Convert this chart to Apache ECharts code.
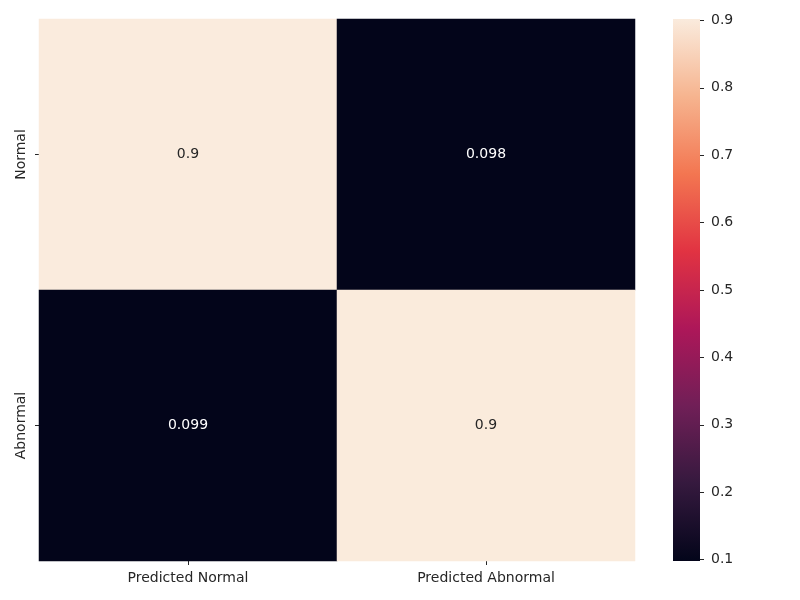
<!DOCTYPE html>
<html>
<head>
<meta charset="utf-8">
<script src="https://cdn.jsdelivr.net/npm/echarts@6/dist/echarts.min.js"></script>
<style>
  html, body { margin: 0; padding: 0; background: #fff; }
  #chart { width: 800px; height: 600px; }
</style>
</head>
<body>
<div id="chart"></div>
<script>
// categories
const xCategories = ['Predicted Normal', 'Predicted Abnormal']
const yCategories = ['Normal', 'Abnormal']
// rows follow yCategories, columns follow xCategories
const matrix = [
  [0.902, 0.098],
  [0.099, 0.901]
]
const colorbarTicks = [0.1, 0.2, 0.3, 0.4, 0.5, 0.6, 0.7, 0.8, 0.9]
// rocket colormap, evenly spaced stops
const rocket = ['#03051a', '#35193e', '#701f57', '#ad1759', '#e13342', '#f37651', '#f6b48f', '#faebdd']

const flat = matrix.flat()
const vmin = Math.min(...flat)
const vmax = Math.max(...flat)

const textColor = '#262626'
const font = 'DejaVu Sans'

// dark text on light cells, like seaborn annotations
const heatData = []
matrix.forEach((row, yi) => {
  row.forEach((v, xi) => {
    heatData.push({
      value: [xi, yi, v],
      label: { color: v > (vmin + vmax) / 2 ? textColor : '#fff' }
    })
  })
})

const chart = echarts.init(document.getElementById('chart'))
chart.setOption({
  animation: false,
  textStyle: { fontFamily: font },
  grid: [
    { left: 39, right: 165, top: 19, bottom: 39 },
    { left: 673, width: 27, top: 19, bottom: 39 }
  ],
  xAxis: [
    {
      type: 'category',
      gridIndex: 0,
      data: xCategories,
      axisLine: { show: false },
      axisTick: { show: true, length: 4, alignWithLabel: true, lineStyle: { color: textColor } },
      axisLabel: { color: textColor, fontSize: 14, fontFamily: font, margin: 10 },
      splitLine: { show: false }
    },
    {
      type: 'category',
      gridIndex: 1,
      data: ['cb'],
      show: false
    }
  ],
  yAxis: [
    {
      type: 'category',
      gridIndex: 0,
      data: yCategories,
      inverse: true,
      axisLine: { show: false },
      axisTick: { show: true, length: 4, alignWithLabel: true, lineStyle: { color: textColor } },
      axisLabel: { color: textColor, fontSize: 14, fontFamily: font, rotate: 90, margin: 11 },
      splitLine: { show: false }
    },
    {
      type: 'value',
      gridIndex: 1,
      position: 'right',
      min: vmin,
      max: vmax,
      axisLine: { show: false },
      axisTick: { show: true, length: 4, customValues: colorbarTicks, lineStyle: { color: textColor } },
      axisLabel: {
        color: textColor, fontSize: 14, fontFamily: font, margin: 11,
        customValues: colorbarTicks,
        formatter: (v) => v.toFixed(1)
      },
      splitLine: { show: false }
    }
  ],
  visualMap: {
    show: false,
    type: 'continuous',
    seriesIndex: 0,
    min: vmin,
    max: vmax,
    inRange: { color: rocket }
  },
  series: [
    {
      type: 'heatmap',
      xAxisIndex: 0,
      yAxisIndex: 0,
      data: heatData,
      label: {
        show: true,
        fontSize: 14,
        fontFamily: font,
        formatter: (p) => String(parseFloat(p.value[2].toPrecision(2)))
      },
      itemStyle: { borderWidth: 0 }
    },
    {
      type: 'bar',
      xAxisIndex: 1,
      yAxisIndex: 1,
      data: [vmax],
      barWidth: '100%',
      clip: true,
      silent: true,
      itemStyle: {
        color: new echarts.graphic.LinearGradient(0, 1, 0, 0,
          rocket.map((c, i) => ({ offset: i / (rocket.length - 1), color: c })))
      }
    }
  ]
})
</script>
</body>
</html>
